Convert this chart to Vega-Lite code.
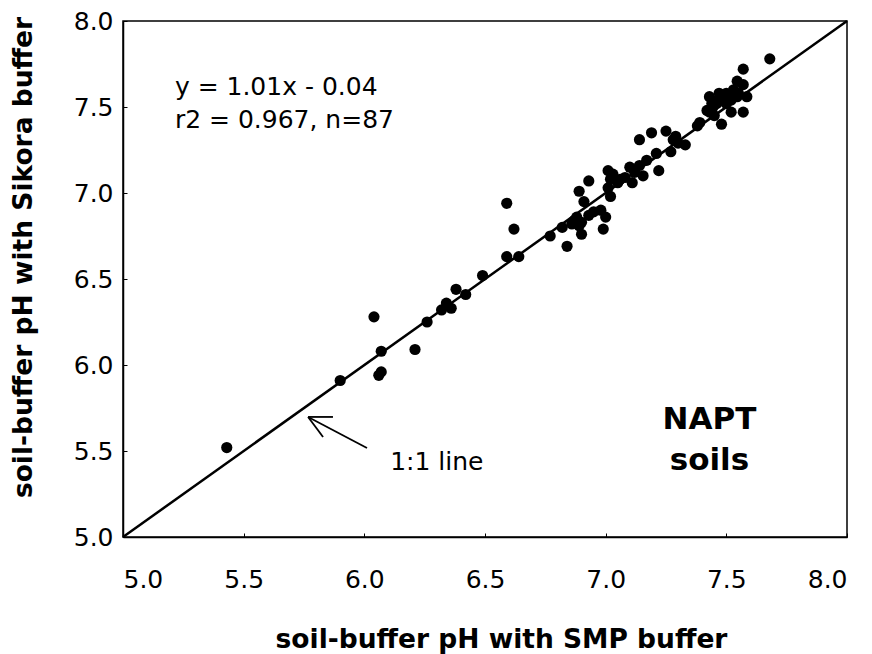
{
  "$schema": "https://vega.github.io/schema/vega-lite/v6.json",
  "autosize": {"type": "none"},
  "padding": {"left": 123, "top": 21, "right": 25, "bottom": 117},
  "width": 724,
  "height": 516,
  "background": "white",
  "config": {
    "view": {"stroke": "black", "strokeWidth": 1.5},
    "axis": {
      "domainColor": "black",
      "domainWidth": 1.5,
      "tickColor": "black",
      "tickSize": -4,
      "grid": false,
      "labelFont": "DejaVu Sans",
      "labelFontSize": 25,
      "labelColor": "black",
      "titleFont": "DejaVu Sans",
      "titleFontSize": 26.5,
      "titleFontWeight": "bold",
      "titleColor": "black"
    }
  },
  "datasets": {
    "points": [
      {"x": 5.43, "y": 5.52}, {"x": 5.90, "y": 5.91}, {"x": 6.04, "y": 6.28}, {"x": 6.07, "y": 6.08},
      {"x": 6.07, "y": 5.96}, {"x": 6.06, "y": 5.94}, {"x": 6.21, "y": 6.09}, {"x": 6.26, "y": 6.25},
      {"x": 6.32, "y": 6.32}, {"x": 6.34, "y": 6.36}, {"x": 6.36, "y": 6.33}, {"x": 6.38, "y": 6.44},
      {"x": 6.42, "y": 6.41}, {"x": 6.49, "y": 6.52}, {"x": 6.59, "y": 6.94}, {"x": 6.62, "y": 6.79},
      {"x": 6.59, "y": 6.63}, {"x": 6.64, "y": 6.63}, {"x": 6.77, "y": 6.75}, {"x": 6.82, "y": 6.80},
      {"x": 6.84, "y": 6.69}, {"x": 6.87, "y": 6.84}, {"x": 6.89, "y": 6.81}, {"x": 6.90, "y": 6.76},
      {"x": 6.89, "y": 7.01}, {"x": 6.93, "y": 7.07}, {"x": 6.91, "y": 6.95}, {"x": 6.93, "y": 6.87},
      {"x": 6.98, "y": 6.90}, {"x": 7.00, "y": 6.86}, {"x": 6.99, "y": 6.79}, {"x": 7.01, "y": 7.13},
      {"x": 7.02, "y": 7.08}, {"x": 7.02, "y": 6.98}, {"x": 7.01, "y": 7.03}, {"x": 7.05, "y": 7.06},
      {"x": 7.08, "y": 7.09}, {"x": 7.10, "y": 7.15}, {"x": 7.11, "y": 7.06}, {"x": 7.14, "y": 7.16},
      {"x": 7.155, "y": 7.10}, {"x": 7.22, "y": 7.13}, {"x": 7.21, "y": 7.23}, {"x": 7.27, "y": 7.24},
      {"x": 7.14, "y": 7.31}, {"x": 7.19, "y": 7.35}, {"x": 7.25, "y": 7.36}, {"x": 7.29, "y": 7.33},
      {"x": 7.33, "y": 7.28}, {"x": 7.28, "y": 7.31}, {"x": 7.38, "y": 7.39}, {"x": 7.39, "y": 7.41},
      {"x": 7.48, "y": 7.40}, {"x": 7.43, "y": 7.47}, {"x": 7.45, "y": 7.45}, {"x": 7.42, "y": 7.48},
      {"x": 7.445, "y": 7.50}, {"x": 7.465, "y": 7.54}, {"x": 7.49, "y": 7.56}, {"x": 7.50, "y": 7.58},
      {"x": 7.52, "y": 7.54}, {"x": 7.53, "y": 7.60}, {"x": 7.545, "y": 7.56}, {"x": 7.43, "y": 7.56},
      {"x": 7.52, "y": 7.47}, {"x": 7.57, "y": 7.47}, {"x": 7.585, "y": 7.56}, {"x": 7.57, "y": 7.63},
      {"x": 7.545, "y": 7.65}, {"x": 7.57, "y": 7.72}, {"x": 7.68, "y": 7.78}, {"x": 6.88, "y": 6.86},
      {"x": 6.90, "y": 6.83}, {"x": 6.95, "y": 6.89}, {"x": 7.03, "y": 7.11}, {"x": 7.06, "y": 7.08},
      {"x": 7.12, "y": 7.12}, {"x": 7.17, "y": 7.19}, {"x": 7.46, "y": 7.52}, {"x": 7.48, "y": 7.55},
      {"x": 7.50, "y": 7.52}, {"x": 7.51, "y": 7.57}, {"x": 7.47, "y": 7.58}, {"x": 7.55, "y": 7.58},
      {"x": 7.44, "y": 7.52}, {"x": 6.86, "y": 6.82}, {"x": 7.30, "y": 7.29}
    ],
    "lines": [
      {"x": 5.0, "y": 5.0, "x2": 8.0, "y2": 8.0, "w": 2.5},
      {"x": 6.011, "y": 5.517, "x2": 5.767, "y2": 5.698, "w": 1.8},
      {"x": 5.767, "y": 5.698, "x2": 5.870, "y2": 5.698, "w": 1.8},
      {"x": 5.767, "y": 5.698, "x2": 5.829, "y2": 5.581, "w": 1.8}
    ],
    "notes": [
      {"x": 5.215, "y": 7.57, "label": "y = 1.01x - 0.04"},
      {"x": 5.215, "y": 7.378, "label": "r2 = 0.967, n=87"},
      {"x": 6.107, "y": 5.39, "label": "1:1 line"}
    ],
    "bold": [
      {"x": 7.43, "y": 5.628, "label": "NAPT"},
      {"x": 7.43, "y": 5.39, "label": "soils"}
    ]
  },
  "encoding": {
    "x": {
      "field": "x", "type": "quantitative",
      "scale": {"domain": [5, 8], "nice": false, "zero": false},
      "axis": {
        "values": [5, 5.5, 6, 6.5, 7, 7.5, 8], "format": ".1f",
        "labelPadding": 34,
        "title": "soil-buffer pH with SMP buffer",
        "titleX": 378, "titleY": 110, "titleBaseline": "alphabetic"
      }
    },
    "y": {
      "field": "y", "type": "quantitative",
      "scale": {"domain": [5, 8], "nice": false, "zero": false},
      "axis": {
        "values": [5, 5.5, 6, 6.5, 7, 7.5, 8], "format": ".1f",
        "labelPadding": 14,
        "title": "soil-buffer pH with Sikora buffer",
        "titleX": -92, "titleY": 236, "titleBaseline": "alphabetic"
      }
    }
  },
  "layer": [
    {
      "data": {"name": "lines"},
      "mark": {"type": "rule", "color": "black"},
      "encoding": {
        "x2": {"field": "x2"},
        "y2": {"field": "y2"},
        "strokeWidth": {"field": "w", "type": "quantitative", "scale": null}
      }
    },
    {
      "data": {"name": "points"},
      "mark": {"type": "circle", "color": "black", "opacity": 1, "size": 125}
    },
    {
      "data": {"name": "notes"},
      "mark": {"type": "text", "align": "left", "baseline": "alphabetic", "font": "DejaVu Sans", "fontSize": 25, "color": "black"},
      "encoding": {"text": {"field": "label"}}
    },
    {
      "data": {"name": "bold"},
      "mark": {"type": "text", "align": "center", "baseline": "alphabetic", "font": "DejaVu Sans", "fontSize": 31, "fontWeight": "bold", "color": "black"},
      "encoding": {"text": {"field": "label"}}
    }
  ]
}
